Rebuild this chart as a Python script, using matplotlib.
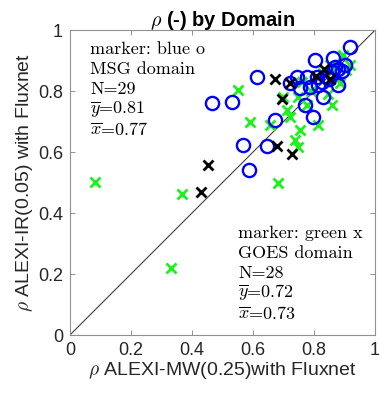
import matplotlib
matplotlib.use("Agg")
import matplotlib.pyplot as plt

plt.rcParams["font.family"] = ["Liberation Sans", "DejaVu Sans"]
plt.rcParams["mathtext.fontset"] = "cm"

# MSG domain (blue o)
msg_x = [0.918, 0.863, 0.803, 0.612, 0.721, 0.743, 0.776, 0.809, 0.754, 0.787,
         0.814, 0.842, 0.880, 0.831, 0.770, 0.798, 0.672, 0.467, 0.530, 0.568,
         0.647, 0.587, 0.880, 0.893, 0.858, 0.870, 0.850, 0.900, 0.826]
msg_y = [0.945, 0.910, 0.902, 0.845, 0.827, 0.847, 0.847, 0.847, 0.809, 0.814,
         0.820, 0.847, 0.820, 0.781, 0.754, 0.716, 0.705, 0.760, 0.765, 0.623,
         0.620, 0.541, 0.874, 0.866, 0.863, 0.880, 0.840, 0.885, 0.830]

# GOES domain (green x)
goes_x = [0.082, 0.331, 0.368, 0.552, 0.590, 0.656, 0.683, 0.699, 0.710, 0.720,
          0.749, 0.776, 0.754, 0.738, 0.749, 0.814, 0.858, 0.846, 0.918, 0.896,
          0.885, 0.852, 0.830, 0.870, 0.790, 0.760, 0.905, 0.860]
goes_y = [0.503, 0.219, 0.462, 0.803, 0.699, 0.689, 0.499, 0.781, 0.738, 0.715,
          0.781, 0.754, 0.672, 0.639, 0.617, 0.689, 0.754, 0.792, 0.885, 0.918,
          0.825, 0.885, 0.860, 0.850, 0.800, 0.830, 0.870, 0.870]

# sites in both domains (black x)
both_x = [0.672, 0.721, 0.694, 0.806, 0.833, 0.852, 0.678, 0.729, 0.453, 0.428]
both_y = [0.838, 0.825, 0.773, 0.850, 0.872, 0.841, 0.620, 0.593, 0.557, 0.470]

ticks = [0, 0.2, 0.4, 0.6, 0.8, 1]
tick_labels = ["0", "0.2", "0.4", "0.6", "0.8", "1"]

msg_text = ["marker: blue o", "MSG domain", "N=29", r"$\overline{y}$=0.81", r"$\overline{x}$=0.77"]
goes_text = ["marker: green x", "GOES domain", "N=28", r"$\overline{y}$=0.72", r"$\overline{x}$=0.73"]

fig = plt.figure(figsize=(3.8, 3.96), dpi=100)
ax = fig.add_axes([0.184, 0.154, 0.803, 0.770])

ax.plot([0, 1], [0, 1], color="#404040", lw=0.8, zorder=1)
ax.plot(goes_x, goes_y, "x", color=(0.1, 0.95, 0.1), ms=7, mew=2, zorder=2)
ax.plot(msg_x, msg_y, "o", mfc="none", mec="blue", ms=9.5, mew=1.7, zorder=3)
ax.plot(both_x, both_y, "x", color="black", ms=6.5, mew=2, zorder=4)

# LaTeX-looking annotation blocks (Computer Modern)
for i, s in enumerate(msg_text):
    ax.text(0.066, 0.938 - i * 0.066, s, fontsize=13, family="cmr10",
            va="center", ha="left")
for i, s in enumerate(goes_text):
    ax.text(0.552, 0.335 - i * 0.066, s, fontsize=13, family="cmr10",
            va="center", ha="left")

ax.set_xlim(0, 1)
ax.set_ylim(0, 1)
ax.set_xticks(ticks)
ax.set_xticklabels(tick_labels)
ax.set_yticks(ticks)
ax.set_yticklabels(tick_labels)
ax.tick_params(direction="in", top=True, right=True, length=3.5, width=0.6,
               color="#808080", labelsize=13, labelcolor="#262626", pad=5)
for sp in ax.spines.values():
    sp.set_color("#909090")
    sp.set_linewidth(0.8)

ax.set_xlabel(r"$\rho$ ALEXI-MW(0.25)with Fluxnet", fontsize=14, color="#262626", labelpad=1)
ax.set_ylabel(r"$\rho$ ALEXI-IR(0.05) with Fluxnet", fontsize=14, color="#262626", labelpad=2)
ax.set_title(r"$\rho$ (-) by Domain", fontsize=14.5, fontweight="bold", pad=3)

fig.savefig("out.png", dpi=100)
